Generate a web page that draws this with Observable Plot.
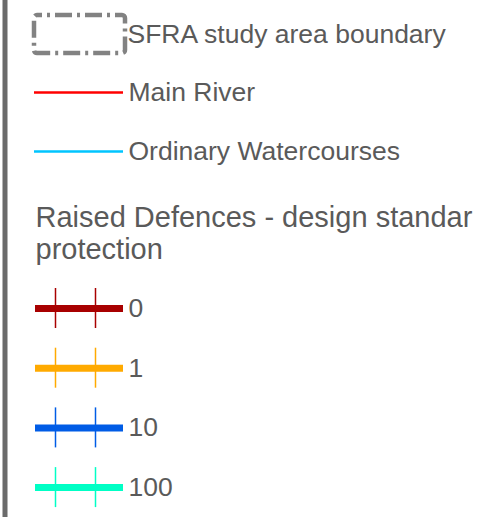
<!DOCTYPE html>
<html>
<head>
<meta charset="utf-8">
<script src="https://cdn.jsdelivr.net/npm/d3@7"></script>
<script src="https://cdn.jsdelivr.net/npm/@observablehq/plot@0.6"></script>
<style>
  html, body { margin: 0; padding: 0; background: #fff; overflow: hidden; }
  svg { display: block; }
</style>
</head>
<body>
<div id="chart"></div>
<script>
// ---- legend content ----
const boundaryLabel = ["SFRA study area boundary"];
const lineLabels = ["Main River", "Ordinary Watercourses"];
const lineColors = ["#ff0000", "#00c5ff"];
const headingLines = ["Raised Defences - design standar", "protection"];
const defenceStandards = ["0", "1", "10", "100"];
const defenceColors = ["#a80000", "#ffaa00", "#005ce6", "#00ffc5"];

// ---- layout (pixel units) ----
const W = 477, H = 517;
const textColor = "#5a5a5a";
const font = "'Liberation Sans', Arial, Helvetica, sans-serif";
const symX1 = 34, symX2 = 123, labelX = 128;
const lineRowY0 = 92, lineRowGap = 59;
const headY0 = 217, headGap = 32;
const defRowY0 = 308, defRowGap = 59.7;

const lineRows = lineLabels.map((label, i) => ({label, color: lineColors[i], y: lineRowY0 + i * lineRowGap}));
const headRows = headingLines.map((label, i) => ({label, y: headY0 + i * headGap}));
const defRows = defenceStandards.map((label, i) => ({label, color: defenceColors[i], y: defRowY0 + i * defRowGap}));
const defTicks = defRows.flatMap(d => [55, 95].map(x => ({...d, x})));

const chart = Plot.plot({
  width: W,
  height: H,
  margin: 0,
  x: {domain: [0, W], range: [0, W], axis: null},
  y: {domain: [0, H], range: [0, H], axis: null},
  style: {fontFamily: font, background: "#fff"},
  marks: [
    // left border
    Plot.ruleX([4.5], {y1: 0, y2: H, stroke: "#6b6b6b", strokeWidth: 5}),
    // study area boundary symbol
    Plot.rect(boundaryLabel, {x1: 34, x2: 125, y1: 15, y2: 53, rx: 3, fill: "none",
      stroke: "#828282", strokeWidth: 4.5, strokeDasharray: "17 5 3 5", strokeDashoffset: 12}),
    Plot.text(boundaryLabel, {x: 127, y: 34, text: d => d, textAnchor: "start", lineAnchor: "middle",
      fontSize: 26.5, fill: textColor}),
    // river lines
    Plot.ruleY(lineRows, {y: "y", x1: symX1, x2: symX2, stroke: "color", strokeWidth: 2.5}),
    Plot.text(lineRows, {x: labelX, y: "y", text: "label", textAnchor: "start", lineAnchor: "middle",
      fontSize: 26.5, fill: textColor}),
    // heading
    Plot.text(headRows, {x: 35, y: "y", text: "label", textAnchor: "start", lineAnchor: "middle",
      fontSize: 29, fill: textColor}),
    // raised defences
    Plot.ruleY(defRows, {y: "y", x1: 35, x2: symX2, stroke: "color", strokeWidth: 7}),
    Plot.ruleX(defTicks, {x: "x", y1: d => d.y - 20, y2: d => d.y + 20, stroke: "color", strokeWidth: 1.5}),
    Plot.text(defRows, {x: labelX, y: "y", text: "label", textAnchor: "start", lineAnchor: "middle",
      fontSize: 26.5, fill: textColor})
  ]
});
document.getElementById("chart").appendChild(chart);
</script>
</body>
</html>
